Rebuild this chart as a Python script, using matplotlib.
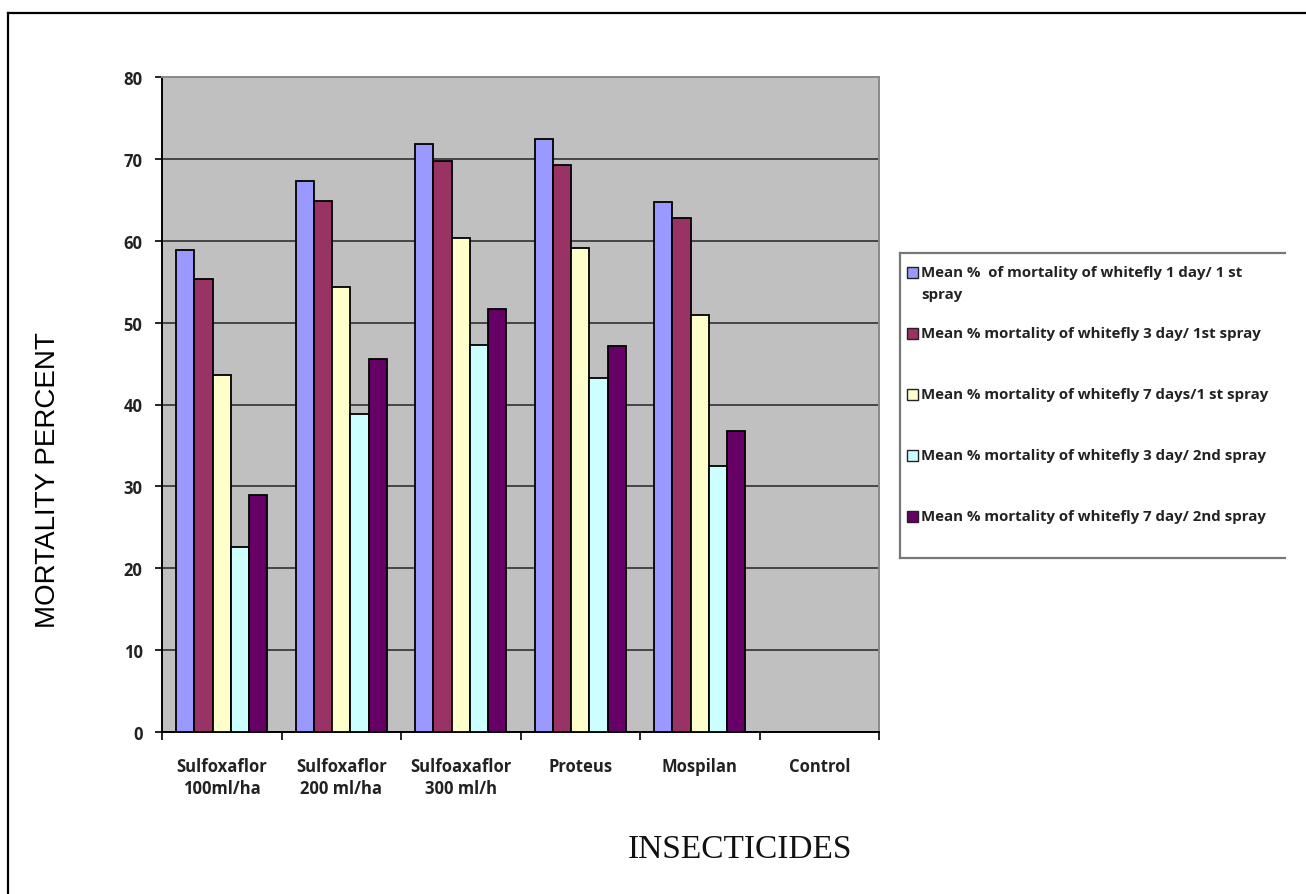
import numpy as np
import matplotlib
matplotlib.use("Agg")
import matplotlib.pyplot as plt
from matplotlib.patches import Rectangle
from matplotlib.lines import Line2D

categories = ["Sulfoxaflor\n100ml/ha", "Sulfoxaflor\n200 ml/ha", "Sulfoaxaflor\n300 ml/h",
              "Proteus", "Mospilan", "Control"]
s1_day1 = [58.9, 67.3, 71.8, 72.4, 64.7, 0]
s1_day3 = [55.3, 64.8, 69.7, 69.2, 62.8, 0]
s1_day7 = [43.6, 54.3, 60.3, 59.1, 50.9, 0]
s2_day3 = [22.6, 38.8, 47.3, 43.2, 32.5, 0]
s2_day7 = [29.0, 45.6, 51.7, 47.1, 36.8, 0]
series = [s1_day1, s1_day3, s1_day7, s2_day3, s2_day7]
labels = ["Mean %  of mortality of whitefly 1 day/ 1 st\nspray",
          "Mean % mortality of whitefly 3 day/ 1st spray",
          "Mean % mortality of whitefly 7 days/1 st spray",
          "Mean % mortality of whitefly 3 day/ 2nd spray",
          "Mean % mortality of whitefly 7 day/ 2nd spray"]
colors = ["#9999FF", "#993366", "#FFFFCC", "#CCFFFF", "#660066"]
yticks = [0, 10, 20, 30, 40, 50, 60, 70, 80]

W, H = 1306, 895
fig = plt.figure(figsize=(W / 100, H / 100), dpi=100)
fig.patch.set_facecolor("white")

def fx(px):
    return px / W

def fy(py):
    return 1 - py / H

# outer frame (left and top visible)
fig.add_artist(Line2D([fx(8), fx(8)], [fy(14), 0], color="black", lw=1.6))
fig.add_artist(Line2D([fx(8), 1], [fy(14), fy(14)], color="black", lw=1.6))

ax = fig.add_axes([fx(162), fy(733.3), fx(879) - fx(162), fy(77.7) - fy(733.3)])
ax.set_facecolor("#C0C0C0")

x = np.arange(len(categories))
bw = 0.153
for i, (vals, c) in enumerate(zip(series, colors)):
    ax.bar(x + (i - 2) * bw, vals, bw, color=c, edgecolor="black", linewidth=1.3, zorder=3)

ax.set_xlim(-0.5, len(categories) - 0.5)
ax.set_ylim(0, 80)
ax.set_yticks(yticks)
ax.yaxis.grid(True, color="#454545", linewidth=1.4, zorder=1)
ax.set_axisbelow(True)

tick_font = dict(family="Open Sans", weight="bold", size=12)
ax.set_yticklabels([str(v) for v in yticks], fontdict=tick_font, color="#222222")
ax.tick_params(axis="y", length=5, width=1.2, pad=9, direction="out")

ax.set_xticks(x)
ax.set_xticklabels(categories, fontdict=tick_font, color="#222222", linespacing=1.3)
ax.tick_params(axis="x", which="major", length=0, pad=18)
ax.set_xticks(np.arange(-0.5, len(categories)), minor=True)
ax.tick_params(axis="x", which="minor", length=6, width=1.2, direction="out")

for s in ["left", "bottom"]:
    ax.spines[s].set_color("black")
    ax.spines[s].set_linewidth(1.4)
for s in ["top", "right"]:
    ax.spines[s].set_color("#8a8a8a")
    ax.spines[s].set_linewidth(1.4)

# axis titles
fig.text(fx(48), fy(480), "MORTALITY PERCENT", rotation=90, ha="center", va="center",
         family="Liberation Sans", size=20, color="black")
fig.text(fx(740), fy(850), "INSECTICIDES", ha="center", va="center",
         family="Liberation Serif", size=24, color="#111111")

# legend box (left, top, bottom borders)
lx0, lx1, ly0, ly1 = 900, 1285, 254, 559
for xs, ys in [([lx0, lx1], [ly0, ly0]), ([lx0, lx1], [ly1, ly1]), ([lx0, lx0], [ly0, ly1])]:
    fig.add_artist(Line2D([fx(v) for v in xs], [fy(v) for v in ys], color="#777777", lw=1.6))

entry_y = [273.5, 334, 395, 456, 517]
sq = 11
for lab, c, yy in zip(labels, colors, entry_y):
    fig.add_artist(Rectangle((fx(907), fy(yy + sq / 2)), fx(sq), sq / H,
                             facecolor=c, edgecolor="#222222", lw=1.0))
    fig.text(fx(921), fy(yy - 8) if "\n" in lab else fy(yy), lab, ha="left",
             va="top" if "\n" in lab else "center",
             family="Open Sans", weight="bold", size=10.8, color="#222222", linespacing=1.75)

fig.savefig("out.png", dpi=100)
